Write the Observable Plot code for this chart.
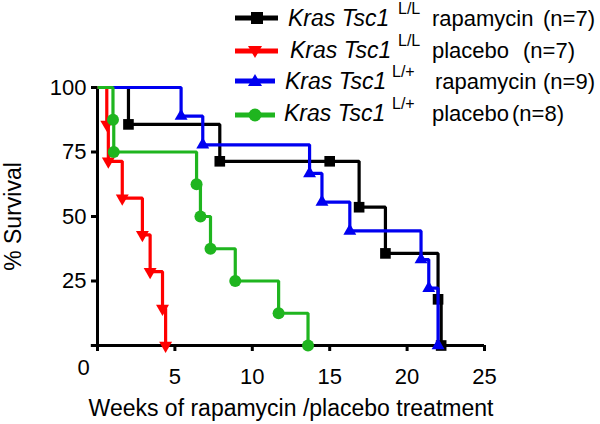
<!DOCTYPE html>
<html>
<head>
<meta charset="utf-8">
<script src="https://cdn.jsdelivr.net/npm/d3@7"></script>
<script src="https://cdn.jsdelivr.net/npm/@observablehq/plot@0.6"></script>
<style>
  html, body { margin: 0; padding: 0; background: #fff; }
  #wrap { position: relative; width: 600px; height: 424px; font-family: "Liberation Sans", Arial, Helvetica, sans-serif; }
  #legend { position: absolute; left: 0; top: 0; pointer-events: none; }
  [aria-label$="axis tick"] { stroke-width: 3px; }
  [aria-label="x-axis label"], [aria-label="y-axis label"] { font-size: 23px; }
</style>
</head>
<body>
<div id="wrap"></div>
<script>
// ---- data (weeks of treatment, % survival at each event) ----
const blackWeeks = [2.0, 7.9, 16.9, 18.6, 22.0, 22.2];   // Kras Tsc1 L/L rapamycin
const blackSurv  = [85.7, 71.4, 53.6, 35.7, 17.9, 0];
const blackCensorWeeks = [15.0];
const blackCensorSurv  = [71.4];

const redWeeks = [0.6, 0.7, 1.6, 2.9, 3.4, 4.2, 4.4];     // Kras Tsc1 L/L placebo
const redSurv  = [85.7, 71.4, 57.1, 42.9, 28.6, 14.3, 0];

const blueWeeks = [5.4, 6.8, 13.7, 14.5, 16.3, 20.9, 21.4, 22.0]; // Kras Tsc1 L/+ rapamycin
const blueSurv  = [88.9, 77.8, 66.7, 55.6, 44.4, 33.3, 22.2, 0];

const greenWeeks = [1.0, 1.05, 6.4, 6.65, 7.3, 8.9, 11.7, 13.6]; // Kras Tsc1 L/+ placebo
const greenSurv  = [87.5, 75, 62.5, 50, 37.5, 25, 12.5, 0];

const xTicks = [0, 5, 10, 15, 20, 25];
const yTicks = [25, 50, 75, 100];

const seriesGene = ["Kras Tsc1", "Kras Tsc1", "Kras Tsc1", "Kras Tsc1"];
const seriesSup = ["L/L", "L/L", "L/+", "L/+"];
const seriesTreatment = ["rapamycin", "placebo", "rapamycin", "placebo"];
const seriesN = ["(n=7)", "(n=7)", "(n=9)", "(n=8)"];
const colors = ["#000000", "#ff0000", "#0000f0", "#1fb51f"];

// ---- build rows ----
function events(weeks, surv) { return weeks.map((w, i) => ({w, s: surv[i]})); }
function curve(weeks, surv) { return [{w: 0, s: 100}, ...events(weeks, surv)]; }
const blackEv = events(blackWeeks, blackSurv);
const blackCens = events(blackCensorWeeks, blackCensorSurv);
const redEv = events(redWeeks, redSurv);
const blueEv = events(blueWeeks, blueSurv);
const greenEv = events(greenWeeks, greenSurv);

const lineOpts = (c) => ({x: "w", y: "s", curve: "step-after", stroke: c, strokeWidth: 3.2, strokeLinejoin: "miter", strokeLinecap: "butt"});

const plot = Plot.plot({
  width: 600,
  height: 424,
  marginLeft: 97,
  marginRight: 116,
  marginTop: 87,
  marginBottom: 79,
  style: {fontFamily: "'Liberation Sans', Arial, Helvetica, sans-serif", fontSize: "22px", background: "white", overflow: "visible", color: "black"},
  x: {domain: [0, 25], ticks: xTicks, tickSize: 6, tickPadding: 17,
      tickFormat: d => d === 0 ? "" : String(d),
      label: "Weeks of rapamycin /placebo treatment", labelAnchor: "center", labelOffset: 70, labelArrow: "none"},
  y: {domain: [0, 100], ticks: yTicks, tickSize: 6, tickPadding: 5,
      label: "% Survival", labelAnchor: "center", labelOffset: 93, labelArrow: "none"},
  marks: [
    Plot.ruleY([0], {x1: -0.4, x2: 25, strokeWidth: 3, stroke: "black"}),
    Plot.ruleX([0], {y1: 0, y2: 100, strokeWidth: 3, stroke: "black"}),
    Plot.text([0], {x: d => d, y: d => d, text: d => String(d), dx: -14, dy: 22, fontSize: 22, fill: "black"}),
    Plot.line(curve(blackWeeks, blackSurv), lineOpts(colors[0])),
    Plot.dot(blackEv.concat(blackCens), {x: "w", y: "s", symbol: "square", r: 6, fill: colors[0], stroke: "none"}),
    Plot.line(curve(blueWeeks, blueSurv), lineOpts(colors[2])),
    Plot.dot(blueEv, {x: "w", y: "s", symbol: "triangle", r: 4.8, fill: colors[2], stroke: "none"}),
    Plot.line(curve(redWeeks, redSurv), lineOpts(colors[1])),
    Plot.dot(redEv, {x: "w", y: "s", symbol: "triangle", rotate: 180, r: 4.8, fill: colors[1], stroke: "none"}),
    Plot.line(curve(greenWeeks, greenSurv), lineOpts(colors[3])),
    Plot.dot(greenEv, {x: "w", y: "s", symbol: "circle", r: 6, fill: colors[3], stroke: "none"})
  ]
});
document.getElementById("wrap").appendChild(plot);

// ---- legend (top right) ----
const ns = "http://www.w3.org/2000/svg";
const lg = document.createElementNS(ns, "svg");
lg.setAttribute("id", "legend");
lg.setAttribute("width", 600);
lg.setAttribute("height", 135);
const rows = [
  {ly: 18, x2: 278, mx: 257, base: 26, kx: 288, sx: 398, tx: 432, nx: 543, sym: "square"},
  {ly: 51, x2: 278, mx: 255, base: 58, kx: 290, sx: 398, tx: 432, nx: 523, sym: "down"},
  {ly: 81, x2: 275, mx: 255, base: 89, kx: 285, sx: 392, tx: 435, nx: 543, sym: "up"},
  {ly: 115, x2: 275, mx: 255, base: 121, kx: 284, sx: 392, tx: 432, nx: 512, sym: "circle"}
];
const FF = "'Liberation Sans', Arial, sans-serif";
function el(tag, attrs, text) {
  const e = document.createElementNS(ns, tag);
  for (const k in attrs) e.setAttribute(k, attrs[k]);
  if (text != null) e.textContent = text;
  lg.appendChild(e);
  return e;
}
rows.forEach((r, i) => {
  const c = colors[i];
  el("line", {x1: 235, x2: r.x2, y1: r.ly, y2: r.ly, stroke: c, "stroke-width": 5});
  if (r.sym === "square") el("rect", {x: r.mx - 6, y: r.ly - 6, width: 12, height: 12, fill: c});
  if (r.sym === "circle") el("circle", {cx: r.mx, cy: r.ly, r: 6.5, fill: c});
  if (r.sym === "down") el("path", {d: `M${r.mx - 7},${r.ly - 5}L${r.mx + 7},${r.ly - 5}L${r.mx},${r.ly + 7}Z`, fill: c});
  if (r.sym === "up") el("path", {d: `M${r.mx - 7},${r.ly + 5}L${r.mx + 7},${r.ly + 5}L${r.mx},${r.ly - 7}Z`, fill: c});
  el("text", {x: r.kx, y: r.base, "font-size": 23, "font-style": "italic", fill: "black", "font-family": FF}, seriesGene[i]);
  el("text", {x: r.sx, y: r.base - 12, "font-size": 16, fill: "black", "font-family": FF}, seriesSup[i]);
  el("text", {x: r.tx, y: r.base, "font-size": 22, fill: "black", "font-family": FF}, seriesTreatment[i]);
  el("text", {x: r.nx, y: r.base, "font-size": 22, fill: "black", "font-family": FF}, seriesN[i]);
});
document.getElementById("wrap").appendChild(lg);
</script>
</body>
</html>
